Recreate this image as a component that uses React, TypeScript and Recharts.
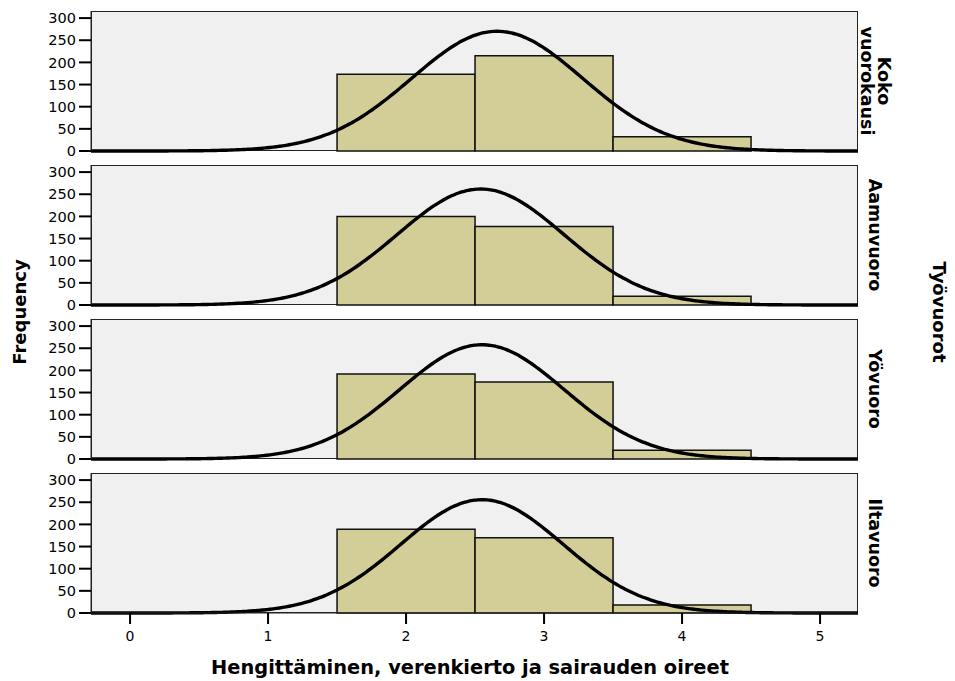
import React from "react";
import {
  ComposedChart,
  Line,
  XAxis,
  YAxis,
  ReferenceArea,
} from "recharts";

// histogram bins (width 1) shared by every shift panel
const BIN_STARTS = [1.5, 2.5, 3.5];
const BIN_WIDTH = 1;

const SHIFT_LABELS = [["Koko", "vuorokausi"], ["Aamuvuoro"], ["Yövuoro"], ["Iltavuoro"]];

// frequencies per bin
const KOKO_COUNTS = [173, 215, 32];
const AAMU_COUNTS = [200, 177, 20];
const YO_COUNTS = [192, 174, 20];
const ILTA_COUNTS = [189, 170, 18];

// normal curve fit per panel
const FIT_MEANS = [2.66, 2.54, 2.55, 2.55];
const FIT_SDS = [0.62, 0.605, 0.597, 0.588];

const X_TICKS = [0, 1, 2, 3, 4, 5];
const Y_TICKS = [0, 50, 100, 150, 200, 250, 300];

const X_DOMAIN: [number, number] = [-0.283, 5.275];
const Y_DOMAIN: [number, number] = [0, 316];

const FONT = "'DejaVu Sans', sans-serif";
const BAR_FILL = "#d3ce98";
const PANEL_STEP = 154;

function normalCurve(counts: number[], mean: number, sd: number) {
  const n = counts.reduce((a, b) => a + b, 0) * BIN_WIDTH;
  const pts = [];
  const steps = 240;
  for (let i = 0; i <= steps; i++) {
    const x = X_DOMAIN[0] + ((X_DOMAIN[1] - X_DOMAIN[0]) * i) / steps;
    const z = (x - mean) / sd;
    pts.push({ x, density: (n / (sd * Math.sqrt(2 * Math.PI))) * Math.exp(-0.5 * z * z) });
  }
  return pts;
}

function PanelBackground({ index }: { index: number }) {
  return (
    <div
      style={{
        position: "absolute",
        left: 91,
        top: index * PANEL_STEP + 11,
        width: 767,
        height: 140,
        background: "#f0f0f0",
        border: "1px solid #222",
        boxSizing: "border-box",
      }}
    />
  );
}

function Panel({ index, counts }: { index: number; counts: number[] }) {
  const showX = index === 3;
  const data = normalCurve(counts, FIT_MEANS[index], FIT_SDS[index]);

  return (
    <div style={{ position: "absolute", left: 0, top: index * PANEL_STEP }}>
      <ComposedChart
        width={955}
        height={showX ? 200 : 162}
        data={data}
        margin={{ top: 11, right: 97, bottom: showX ? 0 : 11, left: 0 }}
      >
        <XAxis
          dataKey="x"
          type="number"
          domain={X_DOMAIN}
          ticks={X_TICKS}
          interval={0}
          hide={!showX}
          height={49}
          tickSize={11}
          tickMargin={7}
          tick={{ fill: "#000", fontSize: 14, fontFamily: FONT }}
          tickLine={{ stroke: "#000", strokeWidth: 2 }}
          axisLine={{ stroke: "#222" }}
        />
        <YAxis
          type="number"
          domain={Y_DOMAIN}
          ticks={Y_TICKS}
          interval={0}
          width={91}
          tickSize={12}
          tickMargin={3}
          tick={{ fill: "#000", fontSize: 14.5, fontFamily: FONT }}
          tickLine={{ stroke: "#000", strokeWidth: 2 }}
          axisLine={{ stroke: "#222" }}
        />
        {BIN_STARTS.map((start, i) => (
          <ReferenceArea
            key={start}
            x1={start}
            x2={start + BIN_WIDTH}
            y1={0}
            y2={counts[i]}
            fill={BAR_FILL}
            fillOpacity={1}
            stroke="#111"
            strokeWidth={1.5}
          />
        ))}
        <Line
          dataKey="density"
          type="monotone"
          stroke="#000"
          strokeWidth={3.4}
          dot={false}
          activeDot={false}
          isAnimationActive={false}
        />
      </ComposedChart>
    </div>
  );
}

export default function App() {
  const panels = [KOKO_COUNTS, AAMU_COUNTS, YO_COUNTS, ILTA_COUNTS];
  return (
    <div
      style={{
        position: "absolute",
        left: 0,
        top: 0,
        width: 955,
        height: 681,
        background: "#fff",
        fontFamily: FONT,
      }}
    >
      {panels.map((_, i) => (
        <PanelBackground key={`bg-${i}`} index={i} />
      ))}
      {panels.map((counts, i) => (
        <Panel key={i} index={i} counts={counts} />
      ))}
      <svg width={955} height={681} style={{ position: "absolute", left: 0, top: 0, pointerEvents: "none" }}>
        <g fontFamily={FONT} fontWeight="bold" fill="#000">
          <text x={19} y={312} fontSize={18} textAnchor="middle" dominantBaseline="central" transform="rotate(-90 19 312)">
            Frequency
          </text>
          <text x={939} y={312} fontSize={18} textAnchor="middle" dominantBaseline="central" transform="rotate(90 939 312)">
            Työvuorot
          </text>
          {SHIFT_LABELS.map((lines, i) => {
            const cy = i * PANEL_STEP + 81;
            const cx = 875;
            return lines.map((line, j) => {
              const offset = (j - (lines.length - 1) / 2) * 17;
              const x = cx - offset;
              return (
                <text
                  key={`${i}-${j}`}
                  x={x}
                  y={cy}
                  fontSize={17.5}
                  textAnchor="middle"
                  dominantBaseline="central"
                  transform={`rotate(90 ${x} ${cy})`}
                >
                  {line}
                </text>
              );
            });
          })}
          <text x={470} y={674} fontSize={19.4} textAnchor="middle">
            Hengittäminen, verenkierto ja sairauden oireet
          </text>
        </g>
      </svg>
    </div>
  );
}
